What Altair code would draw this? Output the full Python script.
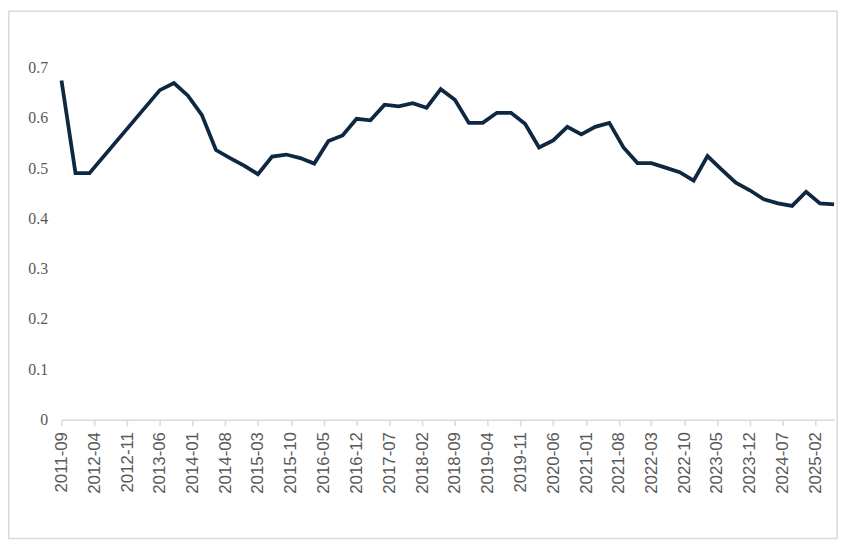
import altair as alt
import pandas as pd

months = ["2011-09", "2011-12", "2012-03", "2013-06", "2013-09", "2013-12",
          "2014-03", "2014-06", "2014-09", "2014-12", "2015-03", "2015-06",
          "2015-09", "2015-12", "2016-03", "2016-06", "2016-09", "2016-12",
          "2017-03", "2017-06", "2017-09", "2017-12", "2018-03", "2018-06",
          "2018-09", "2018-12", "2019-03", "2019-06", "2019-09", "2019-12",
          "2020-03", "2020-06", "2020-09", "2020-12", "2021-03", "2021-06",
          "2021-09", "2021-12", "2022-03", "2022-06", "2022-09", "2022-12",
          "2023-03", "2023-06", "2023-09", "2023-12", "2024-03", "2024-06",
          "2024-09", "2024-12", "2025-03", "2025-06"]
values = [0.674, 0.490, 0.490, 0.655, 0.669, 0.644,
          0.606, 0.536, 0.520, 0.505, 0.488, 0.523,
          0.527, 0.520, 0.509, 0.554, 0.565, 0.598,
          0.595, 0.626, 0.623, 0.629, 0.620, 0.657,
          0.636, 0.590, 0.590, 0.610, 0.610, 0.588,
          0.541, 0.555, 0.582, 0.567, 0.582, 0.590,
          0.541, 0.510, 0.510, 0.501, 0.492, 0.475,
          0.524, 0.497, 0.471, 0.456, 0.438, 0.430,
          0.425, 0.453, 0.430, 0.428]

x_tick_labels = ["2011-09", "2012-04", "2012-11", "2013-06", "2014-01", "2014-08",
                 "2015-03", "2015-10", "2016-05", "2016-12", "2017-07", "2018-02",
                 "2018-09", "2019-04", "2019-11", "2020-06", "2021-01", "2021-08",
                 "2022-03", "2022-10", "2023-05", "2023-12", "2024-07", "2025-02"]
y_ticks = [0, 0.1, 0.2, 0.3, 0.4, 0.5, 0.6, 0.7]
x_domain = ["2011-09", "2025-06"]


def to_dt(s):
    y, m = s.split("-")
    return alt.DateTime(year=int(y), month=int(m), date=1, utc=True)


df = pd.DataFrame({"date": [m + "-01" for m in months], "value": values})

W, H = 780, 355.5
PAD_L, PAD_T = 54, 57.5

line = alt.Chart(df).mark_line(color="#0e2841", strokeWidth=3.8, clip=False).encode(
    x=alt.X("date:T",
            scale=alt.Scale(type="utc", domain=[to_dt(d) for d in x_domain], nice=False),
            axis=alt.Axis(values=[to_dt(d) for d in x_tick_labels],
                          labelExpr="utcFormat(datum.value, '%Y-%m')",
                          labelAngle=270, labelAlign="right",
                          labelBaseline="middle", labelFont="Liberation Sans",
                          labelFontSize=17, labelColor="#595959", labelPadding=6,
                          domainColor="#d9d9d9", domainWidth=1.5, tickColor="#d9d9d9",
                          tickWidth=1.5, tickSize=6, grid=False, title=None,
                          labelOverlap=False, labelFlush=False)),
    y=alt.Y("value:Q",
            scale=alt.Scale(domain=[0, 0.7], nice=False, zero=True),
            axis=alt.Axis(values=y_ticks,
                          labelExpr="datum.value == 0 ? '0' : format(datum.value, '.1f')",
                          labelFont="Liberation Serif", labelFontSize=16, labelColor="#595959",
                          labelPadding=14, domain=False, ticks=False, grid=False,
                          title=None)),
)

frame = alt.Chart(pd.DataFrame({"k": [0]})).mark_rect(
    fill="transparent", stroke="#d9d9d9", strokeWidth=1.5, clip=False
).encode(
    x=alt.value(-PAD_L + 0.75), x2=alt.value(783),
    y=alt.value(-PAD_T + 0.75), y2=alt.value(475.5),
)

chart = alt.layer(frame, line).properties(
    width=W, height=H,
    autosize=alt.AutoSizeParams(type="none"),
    padding={"left": PAD_L, "top": PAD_T, "right": 12, "bottom": 128},
    background="white",
).configure_view(stroke=None)

chart.save("out.html", embed_options={"renderer": "svg", "actions": False})
